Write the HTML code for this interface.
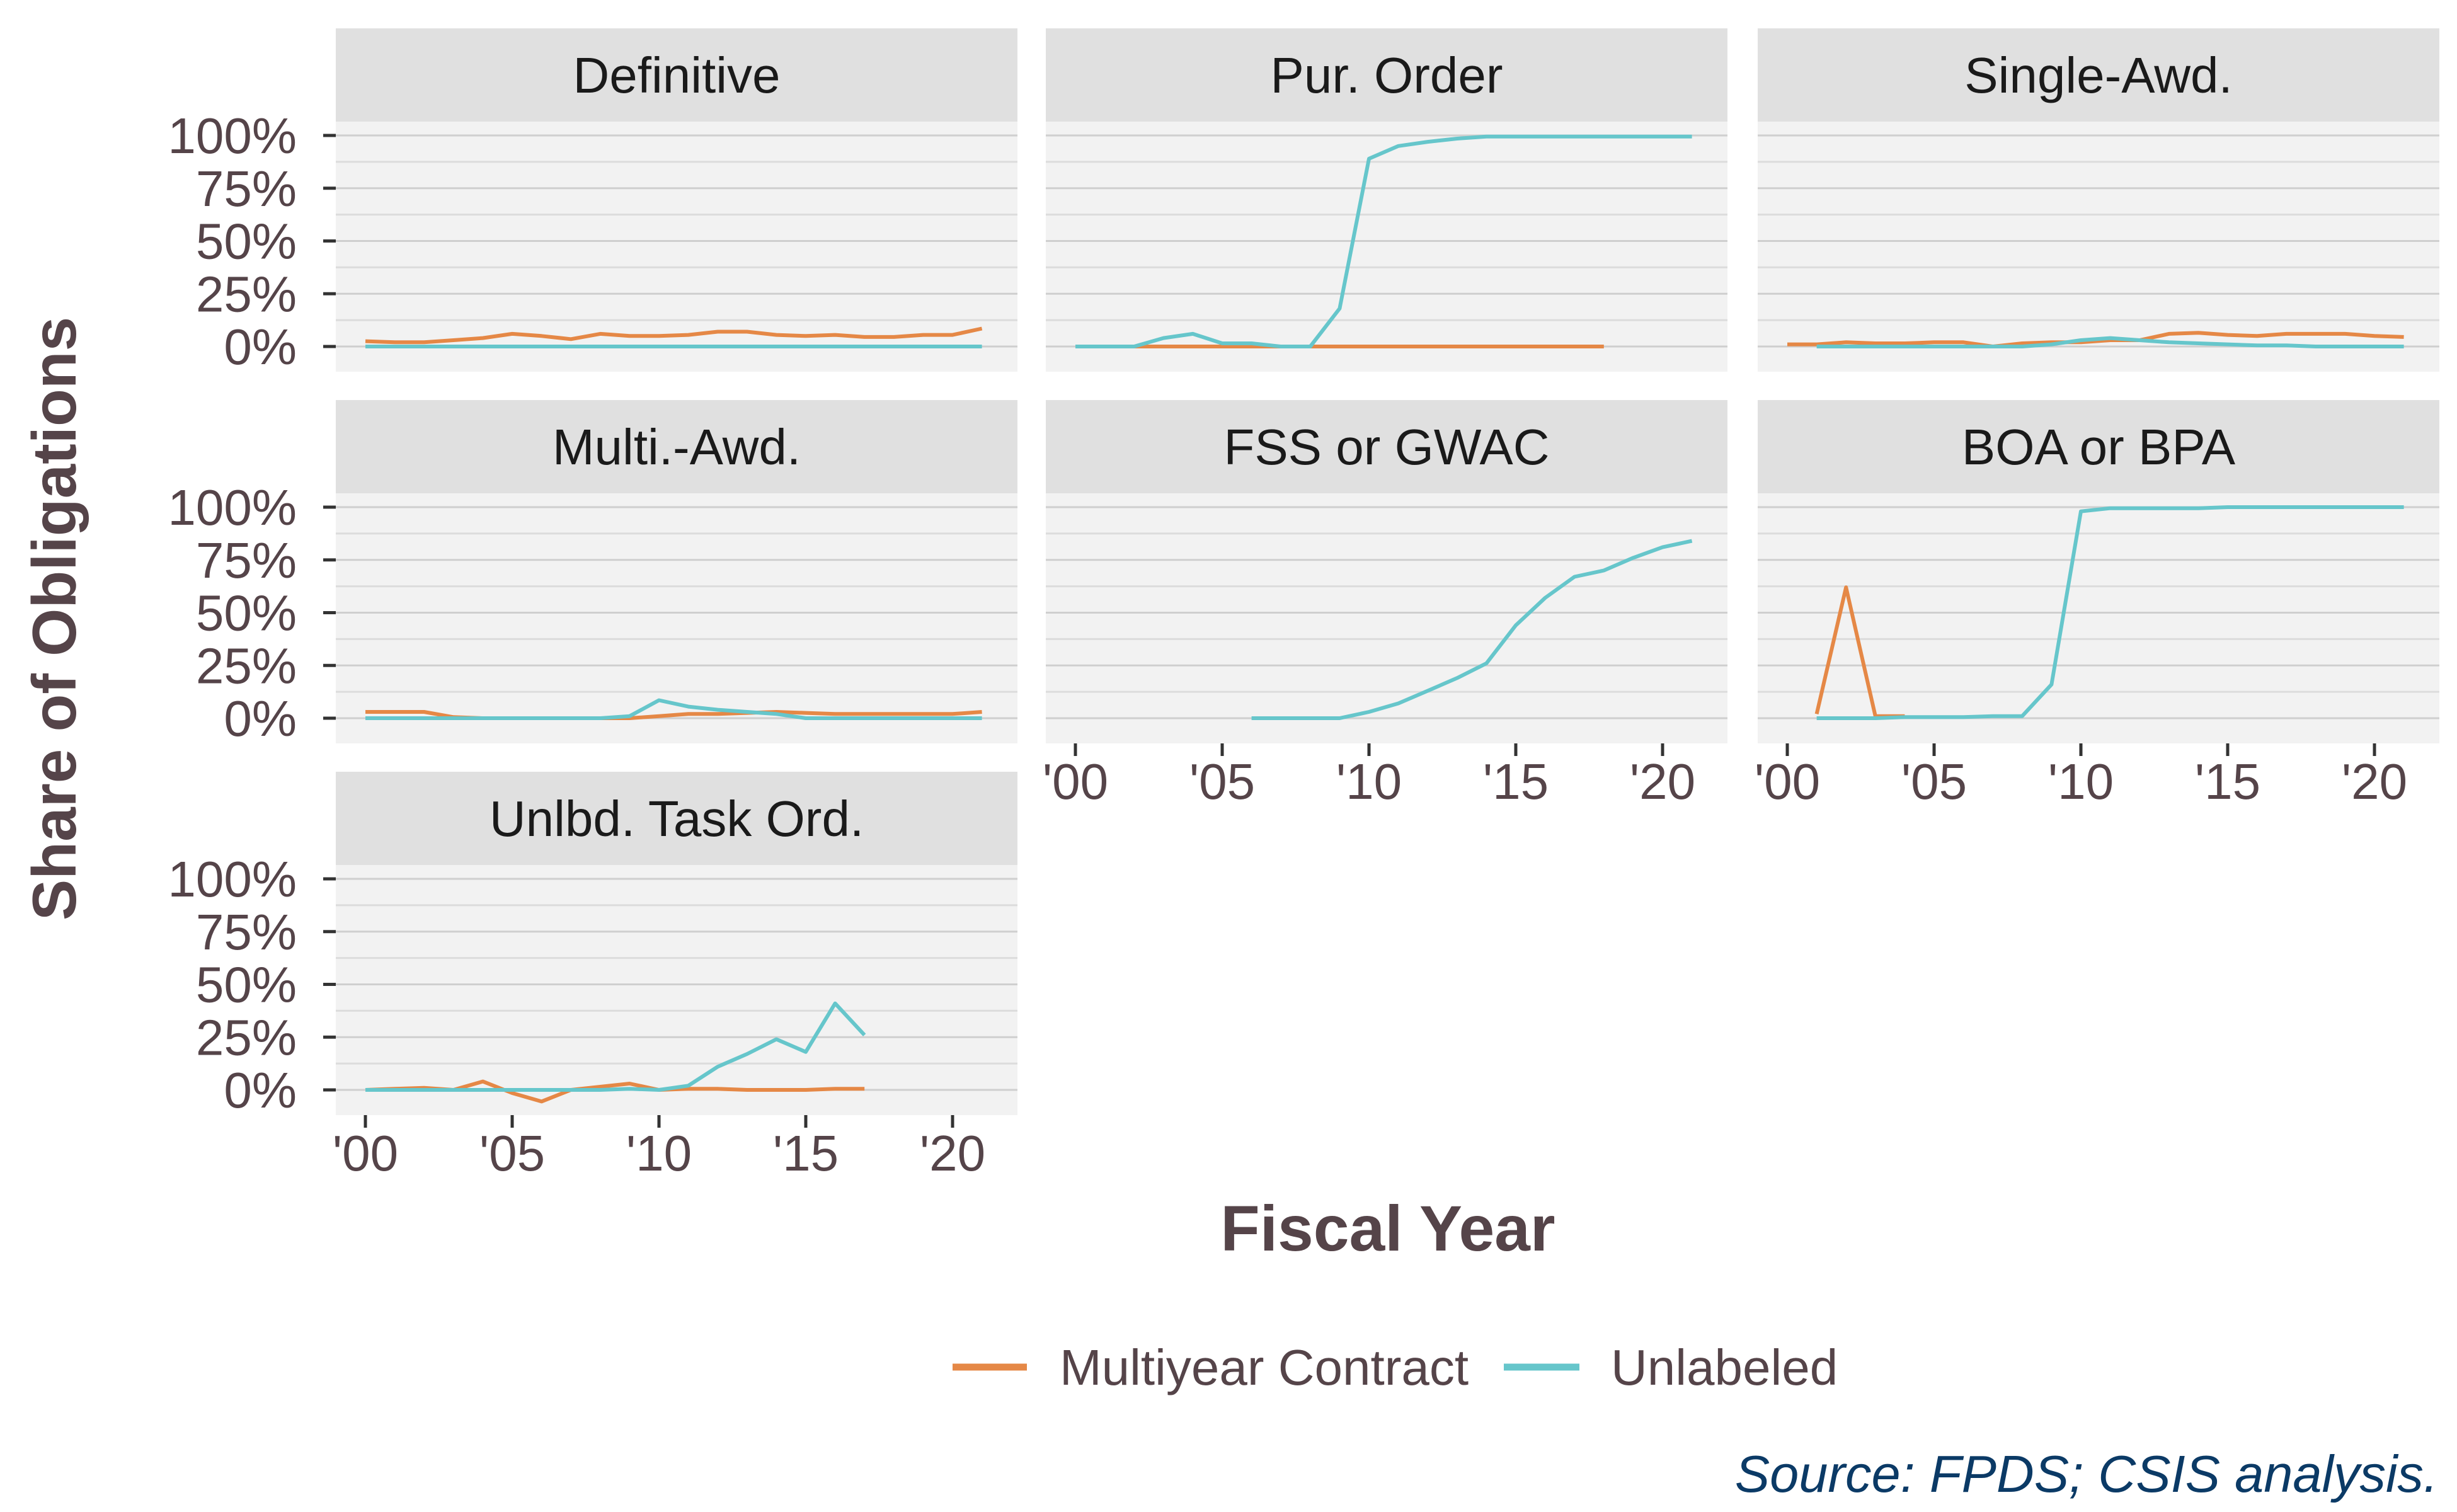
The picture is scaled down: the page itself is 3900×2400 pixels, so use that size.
<!DOCTYPE html>
<html><head><meta charset="utf-8"><style>
html,body{margin:0;padding:0;background:#fff}
svg{display:block;font-family:"Liberation Sans",Arial,sans-serif}
</style></head><body>
<svg id="chart" width="3900" height="2400" viewBox="0 0 3900 2400" xmlns="http://www.w3.org/2000/svg">
<rect width="3900" height="2400" fill="#fff"/>
<g id="panels"></g>
<text x="0" y="0" transform="translate(120,982) rotate(-90)" text-anchor="middle" font-size="98" font-weight="bold" fill="#554449">Share of Obligations</text>
<text x="2203" y="1985" text-anchor="middle" font-size="102" font-weight="bold" fill="#554449">Fiscal Year</text>
<g>
<line x1="1512" y1="2170" x2="1630" y2="2170" stroke="#E58846" stroke-width="11"/>
<text x="1682" y="2198" font-size="80" fill="#554449">Multiyear Contract</text>
<line x1="2387" y1="2170" x2="2507" y2="2170" stroke="#66C6CB" stroke-width="11"/>
<text x="2557" y="2198" font-size="80" fill="#554449">Unlabeled</text>
</g>
<text x="3870" y="2368" text-anchor="end" font-size="83" font-style="italic" fill="#0B3A66">Source: FPDS; CSIS analysis.</text>
</svg>
<script>
const facetNames = ["Definitive","Pur. Order","Single-Awd.","Multi.-Awd.","FSS or GWAC","BOA or BPA","Unlbd. Task Ord."];
const yTickValues = [0,25,50,75,100];
const yTickLabels = ["0%","25%","50%","75%","100%"];
const xTickValues = [2000,2005,2010,2015,2020];
const xTickLabels = ["'00","'05","'10","'15","'20"];
// series: start year + values (percent)
const defMultiStart = 2000;
const defMulti = [2.5,2,2,3,4,6,5,3.5,6,5,5,5.5,7,7,5.5,5,5.5,4.5,4.5,5.5,5.5,8.5];
const defUnlStart = 2000;
const defUnl = [0,0,0,0,0,0,0,0,0,0,0,0,0,0,0,0,0,0,0,0,0,0];
const poMultiStart = 2000;
const poMulti = [0,0,0,0,0,0,0,0,0,0,0,0,0,0,0,0,0,0,0];
const poUnlStart = 2000;
const poUnl = [0,0,0,4,6,1.5,1.5,0,0,18,89,95,97,98.5,99.5,99.5,99.5,99.5,99.5,99.5,99.5,99.5];
const saMultiStart = 2000;
const saMulti = [1,1,2,1.5,1.5,2,2,0,1.5,2,2,3,3,6,6.5,5.5,5,6,6,6,5,4.5];
const saUnlStart = 2001;
const saUnl = [0,0,0,0,0,0,0,0,1,3,4,3,2,1.5,1,0.5,0.5,0,0,0,0];
const maMultiStart = 2000;
const maMulti = [3,3,3,0.5,0,0,0,0,0,0,1,2,2,2.5,3,2.5,2,2,2,2,2,3];
const maUnlStart = 2000;
const maUnl = [0,0,0,0,0,0,0,0,0,1,8.5,5.5,4,3,2,0,0,0,0,0,0,0];
const fssUnlStart = 2006;
const fssUnl = [0,0,0,0,3,7,13,19,26,44,57,67,70,76,81,84];
const boaMultiStart = 2001;
const boaMulti = [2,62,1,1];
const boaUnlStart = 2001;
const boaUnl = [0,0,0,0.5,0.5,0.5,1,1,16,98,99.5,99.5,99.5,99.5,100,100,100,100,100,100,100];
const utoMultiStart = 2000;
const utoMulti = [0,0.5,1,0,4,-1.5,-5.5,0,1.5,3,0,0.5,0.5,0,0,0,0.5,0.5];
const utoUnlStart = 2000;
const utoUnl = [0,0,0,0,0,0,0,0,0,0.5,0,2,11,17,24,18,41,26];

const series = [
  [[defMultiStart,defMulti],[defUnlStart,defUnl]],
  [[poMultiStart,poMulti],[poUnlStart,poUnl]],
  [[saMultiStart,saMulti],[saUnlStart,saUnl]],
  [[maMultiStart,maMulti],[maUnlStart,maUnl]],
  [null,[fssUnlStart,fssUnl]],
  [[boaMultiStart,boaMulti],[boaUnlStart,boaUnl]],
  [[utoMultiStart,utoMulti],[utoUnlStart,utoUnl]]
];
const colors = ["#E58846","#66C6CB"];
const NS = "http://www.w3.org/2000/svg";
const g = document.getElementById("panels");
const colX = [533,1660,2790], colW = 1082;
const rowTop = [45,635,1225];
function mk(tag, attrs, parent){const e=document.createElementNS(NS,tag);for(const k in attrs)e.setAttribute(k,attrs[k]);parent.appendChild(e);return e;}
facetNames.forEach((name,i)=>{
  const c=i%3, r=Math.floor(i/3);
  const px=colX[c], sTop=rowTop[r], pTop=sTop+148, pBot=pTop+397;
  const zero=pTop+357, full=pTop+22;
  const yS=v=>zero-(zero-full)*v/100;
  const x0=px+47, x20=px+979;
  const xS=yr=>x0+(x20-x0)*(yr-2000)/20;
  const pg=mk("g",{},g);
  
  
  const strip=mk("rect",{x:px,y:sTop,width:colW,height:148,fill:"#E0E0E0"},pg);
  
  
  const st=mk("text",{x:px+colW/2,y:sTop+102,"text-anchor":"middle","font-size":"80",fill:"#1a1a1a"},pg);
  
  
  st.textContent=name;
  const bg=mk("rect",{x:px,y:pTop,width:colW,height:397,fill:"#F2F2F2"},pg);
  
  
  for(let v=-12.5; v<=100; v+=12.5){
    if(v<-5) continue;
    const gl=mk("line",{x1:px,x2:px+colW,y1:yS(v),y2:yS(v),stroke:(v%25===0)?"#CFCFCF":"#DCDCDC","stroke-width":3},pg);
    
    
  }
  if(c===0){
    yTickValues.forEach((v,k)=>{
      const tk=mk("line",{x1:px-20,x2:px,y1:yS(v),y2:yS(v),stroke:"#333","stroke-width":5},pg);
      
      
      const tl=mk("text",{x:px-62,y:yS(v)+28,"text-anchor":"end","font-size":"80",fill:"#554449"},pg);
      
      
      tl.textContent=yTickLabels[k];
    });
  }
  if(i>=4){
    xTickValues.forEach((v,k)=>{
      const tk=mk("line",{x1:xS(v),x2:xS(v),y1:pBot,y2:pBot+20,stroke:"#333","stroke-width":5},pg);
      
      
      const tl=mk("text",{x:xS(v),y:pBot+88,"text-anchor":"middle","font-size":"80",fill:"#554449"},pg);
      
      
      tl.textContent=xTickLabels[k];
    });
  }
  series[i].forEach((s,j)=>{
    if(!s) return;
    const [start,vals]=s;
    const pts=vals.map((v,k)=>xS(start+k).toFixed(1)+","+yS(v).toFixed(1)).join(" ");
    const pl=mk("polyline",{points:pts,fill:"none",stroke:colors[j],"stroke-width":6,"stroke-linejoin":"round"},pg);
    
    
  });
});
</script>
</body></html>
